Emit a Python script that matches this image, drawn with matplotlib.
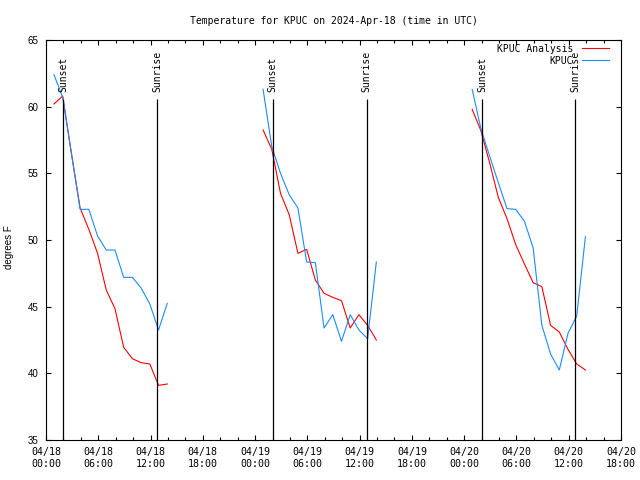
import matplotlib
matplotlib.use('Agg')
import matplotlib.pyplot as plt
import matplotlib.dates as mdates
import pandas as pd

# hourly values for each night, first reading at hh:55 UTC
seg_start = ['2024-04-18 00:55', '2024-04-19 00:55', '2024-04-20 00:55']

analysis1 = [60.2, 60.8, 56.5, 52.4, 50.8, 49.0, 46.25, 44.85, 41.95, 41.1, 40.8, 40.7, 39.1, 39.2]
obs1 = [62.4, 60.7, 56.5, 52.3, 52.3, 50.3, 49.25, 49.25, 47.2, 47.2, 46.4, 45.2, 43.25, 45.25]

analysis2 = [58.25, 56.8, 53.5, 51.9, 49.0, 49.3, 47.0, 46.0, 45.7, 45.45, 43.4, 44.4, 43.6, 42.5]
obs2 = [61.3, 57.0, 55.0, 53.4, 52.4, 48.35, 48.3, 43.4, 44.4, 42.4, 44.4, 43.25, 42.6, 48.35]

analysis3 = [59.8, 58.2, 55.8, 53.2, 51.6, 49.65, 48.2, 46.8, 46.5, 43.6, 43.1, 41.8, 40.7, 40.25]
obs3 = [61.3, 58.35, 56.3, 54.3, 52.35, 52.3, 51.4, 49.4, 43.6, 41.45, 40.25, 43.0, 44.3, 50.25]

sunset = ['2024-04-18 02:00', '2024-04-19 02:00', '2024-04-20 02:04']
sunrise = ['2024-04-18 12:47', '2024-04-19 12:48', '2024-04-20 12:46']

MONO = 'DejaVu Sans Mono'
SANS = 'Liberation Sans'
RED = '#ff0000'
BLUE = '#1a8cff'

fig = plt.figure(figsize=(6.4, 4.8), dpi=100)
ax = fig.add_axes([46/640, 40/480, 575/640, 400/480])

for i, (an, ob) in enumerate([(analysis1, obs1), (analysis2, obs2), (analysis3, obs3)]):
    t = pd.date_range(seg_start[i], periods=len(an), freq='h')
    ax.plot(t, an, color=RED, lw=0.8, label='KPUC Analysis' if i == 0 else None)
    ax.plot(t, ob, color=BLUE, lw=0.8, label='KPUC' if i == 0 else None)

for name, times in [('Sunset', sunset), ('Sunrise', sunrise)]:
    for s in times:
        ts = pd.Timestamp(s)
        ax.vlines(ts, 35, 60.6, color='black', lw=0.9)
        ax.text(ts, 61.1, name, rotation=90, ha='center', va='bottom',
                fontsize=7, family=MONO)

ax.set_xlim(pd.Timestamp('2024-04-18 00:00'), pd.Timestamp('2024-04-20 18:00'))
ax.set_ylim(35, 65)
ax.set_yticks([35, 40, 45, 50, 55, 60, 65])
ax.xaxis.set_major_locator(mdates.HourLocator(byhour=[0, 6, 12, 18]))
ax.xaxis.set_minor_locator(mdates.HourLocator(byhour=range(0, 24, 2)))
ax.xaxis.set_major_formatter(mdates.DateFormatter('%m/%d\n%H:%M'))

ax.tick_params(which='both', direction='in', top=True, right=True, width=0.8)
ax.tick_params(which='major', length=3.6)
ax.tick_params(which='minor', length=2)
ax.tick_params(axis='x', pad=5, labelsize=7.2)
ax.tick_params(axis='y', pad=5.5, labelsize=7)
for lab in ax.get_xticklabels():
    lab.set_family(MONO)
for lab in ax.get_yticklabels():
    lab.set_family(SANS)
for sp in ax.spines.values():
    sp.set_linewidth(0.8)

ax.set_ylabel('degrees F', fontsize=7, family=SANS)
ax.yaxis.set_label_coords(-0.055, 0.483)

fig.text(0.5219, 1 - 20.5/480, 'Temperature for KPUC on 2024-Apr-18 (time in UTC)',
         ha='center', va='center', fontsize=7, family=MONO)

ax.legend(loc='upper right', bbox_to_anchor=(0.9797, 0.991), markerfirst=False,
          frameon=False, borderaxespad=0, borderpad=0, handlelength=2.8,
          handletextpad=0.9, labelspacing=0.2, prop={'family': MONO, 'size': 7})

fig.savefig('out.png', dpi=100)
